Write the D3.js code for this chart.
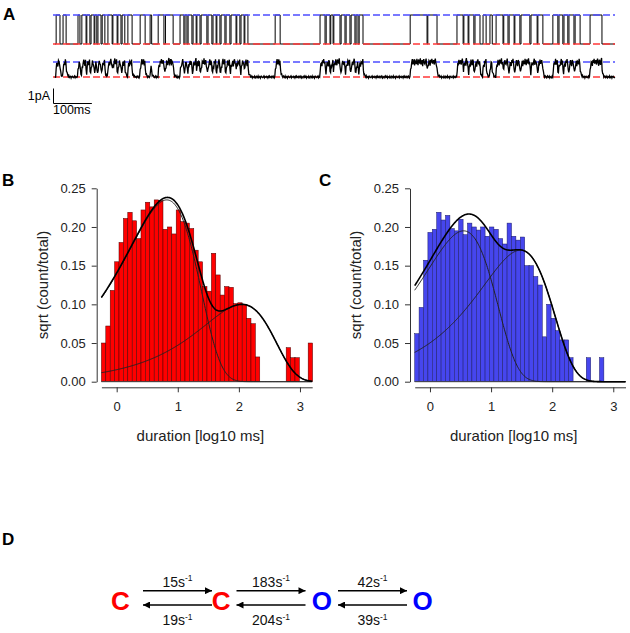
<!DOCTYPE html>
<html>
<head>
<meta charset="utf-8">
<style>
  body { margin: 0; background: #fff; }
  svg { display: block; font-family: "Liberation Sans", Arial, sans-serif; }
</style>
</head>
<body>
<svg width="630" height="633"></svg>
<script src="https://cdn.jsdelivr.net/npm/d3@7"></script>
<script>
// ---------- data ----------
// A: idealised open intervals (ms)
const traceLength = 1460;
const openIntervals = [
  [3, 13], [21, 29], [60, 65],
  [70, 81], [83, 91], [94, 102], [104, 109], [112, 120], [123, 130],
  [138, 149], [151, 162], [164, 172], [175, 182], [190, 201], [222, 235], [248, 252],
  [269, 284], [288, 308],
  [326, 336], [339, 344], [347, 357], [360, 368], [370, 378], [381, 396], [399, 409],
  [412, 420], [422, 430], [433, 443], [446, 456], [459, 472], [474, 482], [485, 493], [495, 503],
  [574, 587],
  [691, 704], [707, 717], [719, 725], [727, 743], [746, 756], [759, 769], [772, 782], [785, 790], [793, 803],
  [926, 970], [972, 996],
  [1048, 1064], [1066, 1077], [1079, 1092], [1095, 1108], [1116, 1124], [1134, 1140],
  [1150, 1168], [1170, 1181], [1184, 1197], [1199, 1212], [1215, 1238], [1241, 1257], [1259, 1272],
  [1298, 1311], [1314, 1324], [1327, 1337], [1340, 1353], [1356, 1369], [1395, 1426]
];
// recording noise (pA), read as a repeating texture
const rawNoise = [0.06, -0.08, 0.03, 0.11, -0.04, -0.12, 0.07, 0.02, -0.09, 0.05, 0.13, -0.06,
  -0.02, 0.09, -0.11, 0.04, 0.01, -0.07, 0.10, -0.03, -0.10, 0.08, 0.03, -0.05, 0.12, -0.08,
  0.00, 0.06, -0.13, 0.04, 0.09, -0.04, -0.07, 0.02, 0.11, -0.09, 0.05, -0.01, -0.06, 0.08,
  0.03, -0.11, 0.07, -0.02, 0.10, -0.05, 0.00];

// B / C: dwell-time histograms, bins in log10 ms
const binStart = -0.25;
const binWidth = 0.072;
const closedHeights = [
  0.050, 0.072, 0.118, 0.155, 0.180, 0.211, 0.219, 0.208, 0.185, 0.222, 0.232, 0.226,
  0.235, 0.234, 0.197, 0.200, 0.191, 0.222, 0.207, 0.205, 0.198, 0.170, 0.155, 0.123,
  0.117, 0.166, 0.138, 0.112, 0.123, 0.122, 0.101, 0.102, 0.100, 0.082, 0.075, 0.032,
  0, 0, 0, 0, 0, 0, 0.044, 0.031, 0.031, 0, 0, 0.050
];
const openHeights = [
  0.062, 0.096, 0.157, 0.193, 0.197, 0.219, 0.209, 0.215, 0.198, 0.195, 0.210, 0.190,
  0.205, 0.200, 0.196, 0.200, 0.188, 0.200, 0.197, 0.185, 0.178, 0.205, 0.188, 0.183,
  0.187, 0.150, 0.150, 0.136, 0.125, 0.058, 0.100, 0.082, 0.066, 0.054, 0.054, 0.031,
  0, 0, 0, 0.031, 0, 0, 0.031, 0, 0, 0, 0, 0
];
// fitted exponential components: log10(tau) and peak height
const closedLogTau = [0.82, 2.05];
const closedPeak = [0.235, 0.100];
const openLogTau = [0.55, 1.48];
const openPeak = [0.195, 0.170];
const yTicks = [0, 0.05, 0.10, 0.15, 0.20, 0.25];
const xTicks = [0, 1, 2, 3];

// D: kinetic scheme
const states = ["C", "C", "O", "O"];
const stateColors = ["#ff0000", "#ff0000", "#0000ff", "#0000ff"];
const forwardRates = ["15", "183", "42"];
const backwardRates = ["19", "204", "39"];

// ---------- drawing ----------
const svg = d3.select("svg");

function panelLabel(t, x, y) {
  svg.append("text").attr("x", x).attr("y", y).text(t)
    .attr("font-size", 17).attr("font-weight", "bold");
}

// ----- A -----
panelLabel("A", 3, 20);
const tx = d3.scaleLinear().domain([0, traceLength]).range([55, 615]);
const idealY = { open: 15, closed: 44 };
const cur = d3.scaleLinear().domain([0, 1]).range([77, 62]);

// idealised trace
let p = `M${tx(0)},${idealY.closed}`;
openIntervals.forEach(([a, b]) => {
  p += `H${tx(a)}V${idealY.open}H${tx(b)}V${idealY.closed}`;
});
p += `H${tx(traceLength)}`;
svg.append("path").attr("d", p).attr("fill", "none")
  .attr("stroke", "#000").attr("stroke-width", 1);

// raw trace from the idealised states, filtered, plus noise
const isOpen = t => openIntervals.some(([a, b]) => t >= a && t < b);
const step = 1.5;
let f = 0;
const raw = [];
for (let i = 0, t = 0; t <= traceLength; i++, t += step) {
  f += ((isOpen(t) ? 1 : 0) - f) * 0.5;
  raw.push([t, f + rawNoise[i % rawNoise.length] * (0.6 + 1.5 * f)]);
}

// reference levels
[[idealY.open, "#4d4dff"], [idealY.closed, "#ff3838"], [cur(1), "#4d4dff"], [cur(0), "#ff3838"]]
  .forEach(([y, c]) => {
    svg.append("line").attr("x1", 53).attr("x2", 615).attr("y1", y).attr("y2", y)
      .attr("stroke", c).attr("stroke-width", 1.4).attr("stroke-dasharray", "7,3");
  });

svg.append("path").datum(raw)
  .attr("d", d3.line().x(d => tx(d[0])).y(d => cur(d[1])))
  .attr("fill", "none").attr("stroke", "#000").attr("stroke-width", 1.3);

// scale bar
const sbx = 53.5, sby = 103.5;
svg.append("path")
  .attr("d", `M${sbx},${sby - (cur(0) - cur(1))}V${sby}H${sbx + tx(100) - tx(0)}`)
  .attr("fill", "none").attr("stroke", "#000").attr("stroke-width", 1);
svg.append("text").attr("x", 50).attr("y", 100).attr("text-anchor", "end")
  .attr("font-size", 12.5).text("1pA");
svg.append("text").attr("x", 53).attr("y", 114).attr("font-size", 12.5).text("100ms");

// ----- B & C histograms -----
function histogram(left, heights, fill, stroke, logTau, peak) {
  const x = d3.scaleLinear().domain([-0.25, 3.2]).range([left, left + 210.8]);
  const y = d3.scaleLinear().domain([0, 0.25]).range([381.7, 188.3]);
  const g = svg.append("g");

  // bars
  g.selectAll("rect").data(heights.map((h, i) => ({ h, i })).filter(d => d.h > 0))
    .join("rect")
    .attr("x", d => x(binStart + d.i * binWidth))
    .attr("width", x(binWidth) - x(0))
    .attr("y", d => y(d.h))
    .attr("height", d => y(0) - y(d.h))
    .attr("fill", fill).attr("stroke", stroke).attr("stroke-width", 0.5);
  g.append("line").attr("x1", x(-0.25)).attr("x2", x(3.2))
    .attr("y1", y(0)).attr("y2", y(0)).attr("stroke", "#444").attr("stroke-width", 1);

  // fitted curves
  const xs = d3.range(-0.25, 3.2001, 0.01);
  const comp = (k, v) => peak[k] * Math.sqrt(Math.pow(10, v - logTau[k]) * Math.exp(1 - Math.pow(10, v - logTau[k])));
  const line = d3.line().x(d => x(d[0])).y(d => y(d[1]));
  [0, 1].forEach(k => {
    g.append("path").datum(xs.map(v => [v, comp(k, v)])).attr("d", line)
      .attr("fill", "none").attr("stroke", "#222").attr("stroke-width", 1);
  });
  g.append("path").datum(xs.map(v => [v, Math.sqrt(comp(0, v) ** 2 + comp(1, v) ** 2)]))
    .attr("d", line).attr("fill", "none").attr("stroke", "#000").attr("stroke-width", 1.6);

  // x axis, offset below
  const xa = g.append("g").attr("transform", "translate(0,387.3)");
  xa.call(d3.axisBottom(x).tickValues(d3.range(-0.2, 3.21, 0.2)).tickSize(3).tickFormat(""));
  xa.call(d3.axisBottom(x).tickValues(xTicks).tickSize(5).tickSizeOuter(0).tickPadding(9)
    .tickFormat(d3.format("d")));
  // y axis, offset left
  const ya = g.append("g").attr("transform", `translate(${left - 4.7},0)`);
  ya.call(d3.axisLeft(y).tickValues(d3.range(0.025, 0.25, 0.05)).tickSize(3).tickFormat(""));
  ya.call(d3.axisLeft(y).tickValues(yTicks).tickSize(5).tickSizeOuter(0).tickPadding(6)
    .tickFormat(d3.format(".2f")));
  g.selectAll(".domain").attr("stroke", "#333");
  g.selectAll(".tick line").attr("stroke", "#333");
  g.selectAll(".tick text").attr("font-size", 13).attr("font-family", "Liberation Sans, Arial, sans-serif")
    .attr("fill", "#222");

  g.append("text").attr("transform", `translate(${left - 59},285) rotate(-90)`)
    .attr("text-anchor", "middle").attr("dominant-baseline", "central")
    .attr("font-size", 15).attr("fill", "#222").text("sqrt (count/total)");
  g.append("text").attr("x", left + 99).attr("y", 441).attr("text-anchor", "middle")
    .attr("font-size", 15).attr("fill", "#222").text("duration [log10 ms]");
}

panelLabel("B", 2, 186);
histogram(101.4, closedHeights, "#ff0000", "#4a0000", closedLogTau, closedPeak);
panelLabel("C", 319, 186);
histogram(414.7, openHeights, "#4646ee", "#1a1a66", openLogTau, openPeak);

// ----- D -----
panelLabel("D", 2, 545);
const sx = d3.scalePoint().domain(d3.range(states.length)).range([120.5, 422.5]);
svg.selectAll(".state").data(states).join("text")
  .attr("x", (d, i) => sx(i)).attr("y", 610).attr("text-anchor", "middle")
  .attr("font-size", 26).attr("font-weight", "bold")
  .attr("fill", (d, i) => stateColors[i]).text(d => d);

svg.append("defs").append("marker").attr("id", "head")
  .attr("viewBox", "0 0 10 10").attr("refX", 10).attr("refY", 5)
  .attr("markerWidth", 8).attr("markerHeight", 7).attr("markerUnits", "userSpaceOnUse")
  .attr("orient", "auto-start-reverse")
  .append("path").attr("d", "M0,0L10,5L0,10Z").attr("fill", "#000");

const arrowMid = [177.5, 271, 372.5];
forwardRates.forEach((r, i) => {
  const m = arrowMid[i];
  svg.append("line").attr("x1", m - 34.5).attr("x2", m + 34.5).attr("y1", 590.7).attr("y2", 590.7)
    .attr("stroke", "#000").attr("stroke-width", 1.6).attr("marker-end", "url(#head)");
  svg.append("line").attr("x1", m - 34.5).attr("x2", m + 34.5).attr("y1", 605).attr("y2", 605)
    .attr("stroke", "#000").attr("stroke-width", 1.6).attr("marker-start", "url(#head)");

  [[r, 586.5], [backwardRates[i], 625]].forEach(([v, yb]) => {
    const t = svg.append("text").attr("x", m).attr("y", yb).attr("text-anchor", "middle")
      .attr("font-size", 14).attr("fill", "#111");
    t.append("tspan").text(v + "s");
    t.append("tspan").attr("font-size", 8.5).attr("dy", -5.5).text("-1");
  });
});
</script>
</body>
</html>
